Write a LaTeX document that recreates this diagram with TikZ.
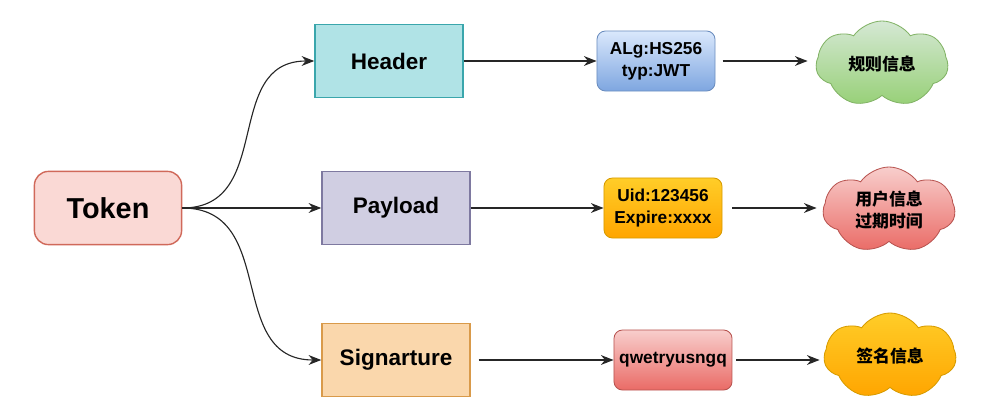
\documentclass[tikz,border=0pt]{standalone}
\usepackage{fontspec}
\setmainfont{Liberation Sans}
\newfontfamily\cjk{Noto Sans CJK SC}
\usetikzlibrary{arrows.meta,shapes.symbols}

\definecolor{tokfill}{HTML}{FAD9D5}
\definecolor{tokdraw}{HTML}{D0695A}
\definecolor{hdrfill}{HTML}{B0E3E6}
\definecolor{hdrdraw}{HTML}{3AA6AC}
\definecolor{payfill}{HTML}{D0CEE2}
\definecolor{paydraw}{HTML}{7E79A0}
\definecolor{sigfill}{HTML}{FAD7AC}
\definecolor{sigdraw}{HTML}{D99A4A}
\definecolor{bluetop}{HTML}{DAE8FC}
\definecolor{bluebot}{HTML}{7EA6E0}
\definecolor{bluedraw}{HTML}{6C8EBF}
\definecolor{orgtop}{HTML}{FFCD28}
\definecolor{orgbot}{HTML}{FFA500}
\definecolor{orgdraw}{HTML}{D79B00}
\definecolor{redtop}{HTML}{F8CECC}
\definecolor{redbot}{HTML}{EA6B66}
\definecolor{reddraw}{HTML}{B85450}
\definecolor{grntop}{HTML}{D5E8D4}
\definecolor{grnbot}{HTML}{97D077}
\definecolor{grndraw}{HTML}{82B366}

\begin{document}
\begin{tikzpicture}[x=0.025cm,y=-0.025cm,
    part/.style={draw,line width=1pt,inner sep=0pt,minimum width=3.7cm,minimum height=1.83cm,
      font=\bfseries\fontsize{16}{19}\selectfont},
    val/.style={draw,line width=0.6pt,rounded corners=6pt,inner sep=0pt,align=center,
      minimum width=2.95cm,minimum height=1.5cm,font=\bfseries\fontsize{12.3}{15.5}\selectfont},
    info/.style={cloud,cloud puffs=7,cloud puff arc=110,aspect=1.55,draw,line width=0.6pt,inner sep=0pt,
      align=center,minimum width=3.3cm,minimum height=2.15cm,font=\cjk\bfseries\fontsize{12}{15.5}\selectfont},
    link/.style={-{Stealth[length=9pt,width=7pt]},line width=0.8pt,draw=black!85}]
  \path[use as bounding box] (0,0) rectangle (993,420);

  % left and middle column
  \node[draw=tokdraw,fill=tokfill,line width=1pt,rounded corners=10pt,minimum width=3.68cm,
    minimum height=1.83cm,font=\bfseries\fontsize{20.5}{24}\selectfont] (token) at (108,208) {Token};
  \node[part,draw=hdrdraw,fill=hdrfill] (header) at (389,61) {Header};
  \node[part,draw=paydraw,fill=payfill] (payload) at (396,208) {Payload};
  \node[part,draw=sigdraw,fill=sigfill] (signature) at (396,360) {Signarture};

  % values
  \node[val,draw=bluedraw,top color=bluetop,bottom color=bluebot] (alg) at (656,61) {ALg:HS256\\typ:JWT};
  \node[val,draw=orgdraw,top color=orgtop,bottom color=orgbot] (uid) at (663,208) {Uid:123456\\Expire:xxxx};
  \node[val,draw=reddraw,top color=redtop,bottom color=redbot] (sign) at (673,360) {qwetryusngq};

  % clouds
  \node[info,draw=grndraw,top color=grntop,bottom color=grnbot] (rule) at (882,64) {规则信息};
  \node[info,draw=reddraw,top color=redtop,bottom color=redbot] (user) at (889,210) {用户信息\\过期时间};
  \node[info,draw=orgdraw,top color=orgtop,bottom color=orgbot] (sigi) at (890,356) {签名信息};

  \draw[link] (token.east) to[out=0,in=180,looseness=1.2] (header.west);
  \draw[link] (token.east) -- (payload.west);
  \draw[link] (token.east) to[out=0,in=180,looseness=1.2] (signature.west);

  \draw[link] (header) -- (alg);
  \draw[link] (payload) -- (uid);
  \draw[link,shorten <=0.2cm] (signature) -- (sign);

  \draw[link,shorten <=0.18cm,shorten >=0.2cm] (alg.east) -- (alg.east -| rule.west);
  \draw[link,shorten <=0.25cm,shorten >=0.15cm] (uid.east) -- (uid.east -| user.west);
  \draw[link,shorten <=0.1cm,shorten >=0.1cm] (sign.east) -- (sign.east -| sigi.west);
\end{tikzpicture}
\end{document}
